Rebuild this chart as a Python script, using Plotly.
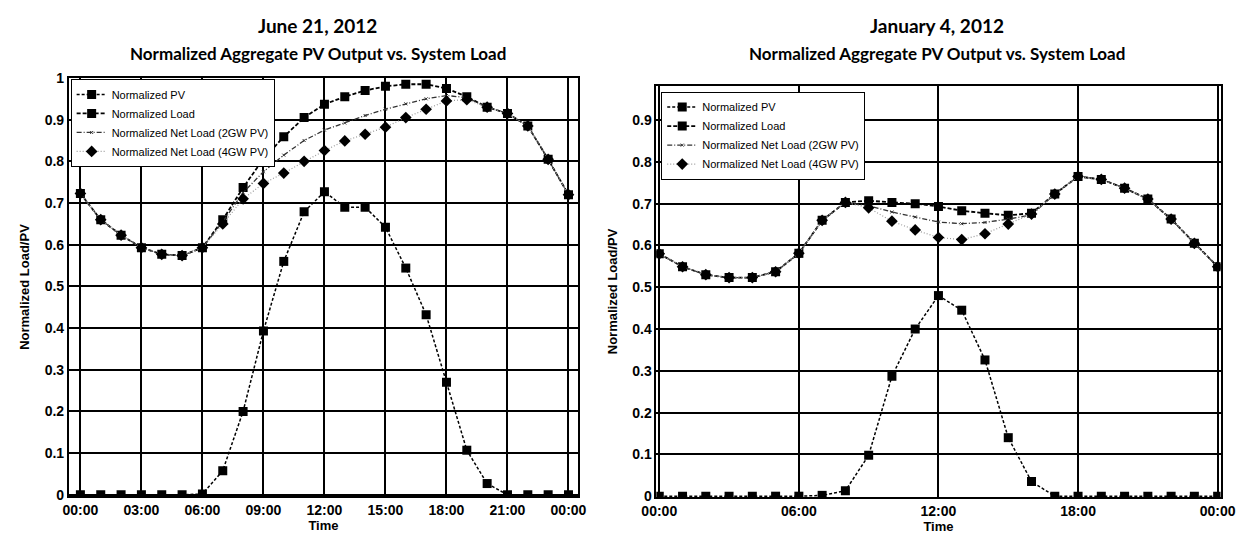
import plotly.graph_objects as go

# ---------------- data ----------------
hours = list(range(25))

# June 21, 2012
jun_pv = [0, 0, 0, 0, 0, 0, 0.002, 0.058, 0.20, 0.393, 0.56, 0.679, 0.727, 0.69, 0.69,
          0.642, 0.544, 0.432, 0.27, 0.107, 0.027, 0, 0, 0, 0]
jun_load = [0.723, 0.66, 0.623, 0.593, 0.577, 0.574, 0.593, 0.66, 0.737, 0.806, 0.859, 0.905,
            0.937, 0.955, 0.97, 0.98, 0.985, 0.985, 0.975, 0.955, 0.93, 0.915, 0.885, 0.805, 0.72]
jun_net2 = [0.723, 0.66, 0.623, 0.593, 0.577, 0.574, 0.593, 0.655, 0.725, 0.775, 0.815, 0.85,
            0.875, 0.892, 0.91, 0.925, 0.938, 0.95, 0.958, 0.953, 0.93, 0.915, 0.885, 0.805, 0.72]
jun_net4 = [0.723, 0.66, 0.623, 0.593, 0.577, 0.574, 0.593, 0.65, 0.71, 0.747, 0.772, 0.80,
            0.826, 0.849, 0.865, 0.882, 0.905, 0.925, 0.945, 0.948, 0.93, 0.915, 0.885, 0.805, 0.72]

# January 4, 2012
jan_pv = [0, 0, 0, 0, 0, 0, 0, 0.002, 0.013, 0.098, 0.287, 0.40, 0.48, 0.445, 0.326,
          0.14, 0.035, 0, 0, 0, 0, 0, 0, 0, 0]
jan_load = [0.58, 0.549, 0.53, 0.523, 0.523, 0.537, 0.581, 0.66, 0.703, 0.707, 0.703, 0.70,
            0.693, 0.683, 0.677, 0.672, 0.677, 0.723, 0.765, 0.758, 0.737, 0.711, 0.663, 0.605, 0.549]
jan_net2 = [0.58, 0.549, 0.53, 0.523, 0.523, 0.537, 0.581, 0.66, 0.703, 0.695, 0.68, 0.668,
            0.656, 0.652, 0.655, 0.663, 0.673, 0.723, 0.765, 0.758, 0.737, 0.711, 0.663, 0.605, 0.549]
jan_net4 = [0.58, 0.549, 0.53, 0.523, 0.523, 0.537, 0.581, 0.66, 0.703, 0.69, 0.658, 0.637,
            0.619, 0.614, 0.628, 0.651, 0.675, 0.723, 0.765, 0.758, 0.737, 0.711, 0.663, 0.605, 0.549]

series_names = ["Normalized PV", "Normalized Load",
                "Normalized Net Load (2GW PV)", "Normalized Net Load (4GW PV)"]

left_tickvals = [0, 3, 6, 9, 12, 15, 18, 21, 24]
left_ticktext = ["00:00", "03:00", "06:00", "09:00", "12:00", "15:00", "18:00", "21:00", "00:00"]
right_tickvals = [0, 6, 12, 18, 24]
right_ticktext = ["00:00", "06:00", "12:00", "18:00", "00:00"]
y_ticks = [0, 0.1, 0.2, 0.3, 0.4, 0.5, 0.6, 0.7, 0.8, 0.9, 1]
y_ticktext = ["0", "0.1", "0.2", "0.3", "0.4", "0.5", "0.6", "0.7", "0.8", "0.9", "1"]

# ---------------- styles ----------------
styles = [
    dict(line=dict(color="black", width=1.5, dash="3px,2px"),
         marker=dict(symbol="square", size=9, color="black")),
    dict(line=dict(color="black", width=1.8, dash="4px,2px"),
         marker=dict(symbol="square", size=9, color="black")),
    dict(line=dict(color="#333333", width=1.3, dash="5px,2px,1px,2px"),
         marker=dict(symbol="x-thin", size=3, color="#333333", line=dict(width=1, color="#333333"))),
    dict(line=dict(color="#9a9a9a", width=1.2, dash="1px,2px"),
         marker=dict(symbol="diamond", size=9, color="black")),
]

fig = go.Figure()
for i, ys in enumerate([jun_pv, jun_load, jun_net2, jun_net4]):
    fig.add_trace(go.Scatter(x=hours, y=ys, name=series_names[i], mode="lines+markers",
                             xaxis="x", yaxis="y", legend="legend", **styles[i]))
for i, ys in enumerate([jan_pv, jan_load, jan_net2, jan_net4]):
    fig.add_trace(go.Scatter(x=hours, y=ys, name=series_names[i], mode="lines+markers",
                             xaxis="x2", yaxis="y2", legend="legend2", **styles[i]))

W, H = 1259, 540
tickfont = dict(family="Liberation Sans Narrow, Arial Narrow, Liberation Sans, Arial",
                size=14, color="black", weight="bold")
axtitlefont = dict(family="Liberation Sans, Arial", size=13, color="black", weight="bold")

def xax(domain, rng, tv, tt):
    return dict(domain=domain, range=rng, tickvals=tv, ticktext=tt, showgrid=True,
                gridcolor="black", gridwidth=1.5, showline=True, linecolor="black",
                linewidth=1.5, mirror=True, ticks="", zeroline=False, tickfont=tickfont,
                title=dict(text="Time", font=axtitlefont, standoff=1))

def yax(domain, rng, anchor):
    return dict(domain=domain, range=rng, anchor=anchor, tickvals=y_ticks, ticktext=y_ticktext,
                showgrid=True, gridcolor="black", gridwidth=1.5, showline=True,
                linecolor="black", linewidth=1.5, mirror=True, ticks="", zeroline=False,
                tickfont=tickfont,
                title=dict(text="Normalized Load/PV", font=axtitlefont, standoff=12))

legend_common = dict(bgcolor="white", bordercolor="black", borderwidth=1,
                     font=dict(family="Liberation Sans Narrow, Arial Narrow, Liberation Sans, Arial",
                               size=11, color="black"),
                     xanchor="left", yanchor="top", tracegroupgap=0, itemwidth=30)

fig.update_layout(
    width=W, height=H,
    margin=dict(l=0, r=0, t=0, b=0),
    paper_bgcolor="white", plot_bgcolor="white",
    xaxis=xax([55 / W, 577 / W], [-0.576, 24.48], left_tickvals, left_ticktext) | dict(anchor="y"),
    yaxis=yax([(H - 502) / H, (H - 72) / H], [-0.003, 1.0], "x"),
    xaxis2=xax([657 / W, 1235 / W], [-0.126, 24.126], right_tickvals, right_ticktext) | dict(anchor="y2"),
    yaxis2=yax([(H - 503) / H, (H - 80) / H], [-0.002, 0.982], "x2"),
    legend=dict(x=57 / W, y=(H - 73) / H, **legend_common),
    legend2=dict(x=662 / W, y=(H - 86) / H, **legend_common),
    showlegend=True,
)

titles = [
    (310, 18, "June 21, 2012", 19),
    (310, 47, "Normalized Aggregate PV Output vs. System Load", 17),
    (944, 18, "January 4, 2012", 19),
    (944, 47, "Normalized Aggregate PV Output vs. System Load", 17),
]
for cx, cy, txt, sz in titles:
    fig.add_annotation(text=txt, x=cx / W, y=1 - cy / H, xref="paper", yref="paper",
                       xanchor="center", yanchor="middle", showarrow=False,
                       font=dict(family="Lato, Open Sans, sans-serif", size=sz,
                                 color="black", weight="bold"))

fig.write_html("out.html")
